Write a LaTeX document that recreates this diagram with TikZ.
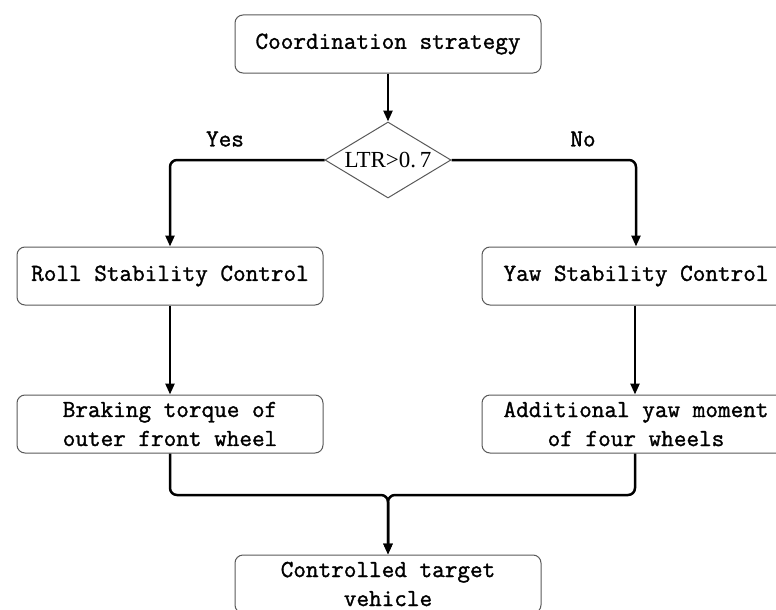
\documentclass[tikz,border=0pt]{standalone}
\usepackage{fontspec}
\newfontfamily\ltrfont{Liberation Serif}
\newfontfamily\lmmono[FakeBold=1.3]{Latin Modern Mono}
\usetikzlibrary{shapes.geometric,arrows.meta}
\tikzset{
  box/.style={draw=black!65, line width=1pt, rounded corners=8pt, minimum width=306pt, minimum height=58pt, inner sep=0pt, align=center, font=\lmmono\bfseries\fontsize{24.5}{29}\selectfont},
  dec/.style={draw=black!65, line width=1pt, diamond, minimum width=126pt, minimum height=76pt, inner sep=0pt, aspect=1.66, font=\ltrfont\fontsize{23}{25}\selectfont},
  conn/.style={line width=2.5pt, rounded corners=7pt, -{Triangle[length=11pt,width=9pt]}},
  lbl/.style={font=\lmmono\bfseries\fontsize{24.5}{25}\selectfont, inner sep=0pt}
}
\begin{document}
\begin{tikzpicture}[x=1pt,y=-1pt]
\useasboundingbox (0,0) rectangle (776,610);
\clip (0,0) rectangle (776,610);
\node[box] (cs) at (388,44) {Coordination strategy};
\node[dec, minimum width=126pt, minimum height=76pt] (ltr) at (388,160) {LTR>0.\,7};
\node[box] (roll) at (170,276) {Roll Stability Control};
\node[box, minimum width=308pt] (yaw) at (636,276) {Yaw Stability Control};
\node[box] (brk) at (170,424) {Braking torque of\\outer front wheel};
\node[box, minimum width=308pt] (add) at (636,424) {Additional yaw moment\\of four wheels};
\node[box] (veh) at (388,584) {Controlled target\\vehicle};
\coordinate (j) at (388,495);
\draw[conn] (cs.south) -- (ltr.north);
\draw[conn] (ltr.west) -| (roll.north);
\draw[conn] (ltr.east) -| (yaw.north);
\draw[conn] (roll.south) -- (brk.north);
\draw[conn] ([xshift=-1pt]yaw.south) -- ([xshift=-1pt]add.north);
\draw[conn] (brk.south) |- (j) -- (veh.north);
\draw[conn] ([xshift=-1pt]add.south) |- (j) -- (veh.north);
\node[lbl] (yes) at (225,139) {Yes};
\node[lbl] (no) at (583,139) {No};
\end{tikzpicture}
\end{document}
